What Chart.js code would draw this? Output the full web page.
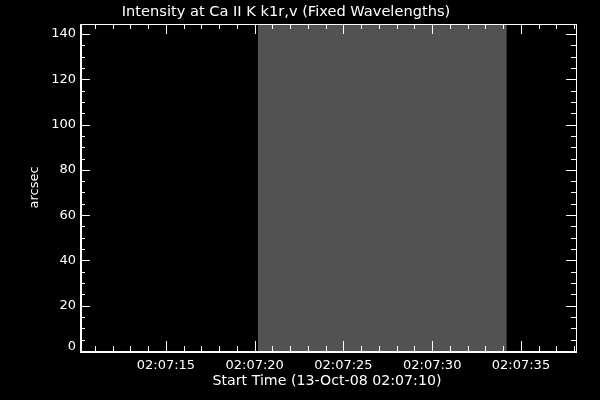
<!DOCTYPE html>
<html>
<head>
<meta charset="utf-8">
<script src="https://cdn.jsdelivr.net/npm/chart.js@4"></script>
<style>
  html, body { margin: 0; padding: 0; background: #000; }
  #wrap { width: 600px; height: 400px; }
</style>
</head>
<body>
<div id="wrap"><canvas id="c"></canvas></div>
<script>
// Data (seconds after 02:07:00)
const xMin = 10.16, xMax = 38.1;
const yMin = 0, yMax = 144.4;
const bandStart = 20.17, bandEnd = 34.2;   // grey intensity block
const xMajorTicks = [15, 20, 25, 30, 35];
const xTickLabels = ['02:07:15', '02:07:20', '02:07:25', '02:07:30', '02:07:35'];
const yMajorTicks = [0, 20, 40, 60, 80, 100, 120, 140];
const titleText = 'Intensity at Ca II K k1r,v (Fixed Wavelengths)';
const xTitle = 'Start Time (13-Oct-08 02:07:10)';
const yTitle = 'arcsec';

// IDL-style axes: box, ticks pointing inward, labels drawn by hand
const idlAxes = {
  id: 'idlAxes',
  beforeDraw(chart) {
    const ctx = chart.ctx;
    ctx.save();
    ctx.fillStyle = '#000';
    ctx.fillRect(0, 0, chart.width, chart.height);
    ctx.restore();
  },
  afterDraw(chart) {
    const {ctx, chartArea: a} = chart;
    const xs = chart.scales.x, ys = chart.scales.y;
    ctx.save();
    ctx.fillStyle = '#fff';
    ctx.lineWidth = 1;

    // right edge of the grey block is a bit darker
    const ex = Math.round(xs.getPixelForValue(bandEnd)) - 0.5;
    ctx.strokeStyle = '#303030';
    ctx.beginPath();
    ctx.moveTo(ex, ys.getPixelForValue(yMax));
    ctx.lineTo(ex, ys.getPixelForValue(0));
    ctx.stroke();

    ctx.strokeStyle = '#fff';
    ctx.strokeRect(a.left + 0.5, a.top + 0.5, a.right - a.left, a.bottom - a.top);
    ctx.beginPath();
    ctx.moveTo(a.left, a.bottom + 1.5);
    ctx.lineTo(a.right + 1, a.bottom + 1.5);
    ctx.moveTo(a.left + 1.5, a.top);
    ctx.lineTo(a.left + 1.5, a.bottom + 1);
    ctx.stroke();

    ctx.beginPath();
    // x ticks every second, major every 5 s
    for (let s = Math.ceil(xMin); s <= xMax; s++) {
      const px = Math.round(xs.getPixelForValue(s)) + 0.5;
      const len = (s % 5 === 0) ? 10 : 5;
      ctx.moveTo(px, a.bottom); ctx.lineTo(px, a.bottom - len);
      ctx.moveTo(px, a.top); ctx.lineTo(px, a.top + len);
    }
    // y ticks every 5, major every 20
    for (let v = 0; v <= yMax; v += 5) {
      const py = Math.round(ys.getPixelForValue(v)) + 0.5;
      const len = (v % 20 === 0) ? 10 : 5;
      ctx.moveTo(a.left, py); ctx.lineTo(a.left + len, py);
      ctx.moveTo(a.right, py); ctx.lineTo(a.right - len, py);
    }
    ctx.stroke();

    ctx.font = '13px "DejaVu Sans"';
    ctx.textBaseline = 'middle';
    ctx.textAlign = 'right';
    yMajorTicks.forEach(v => {
      let py = ys.getPixelForValue(v);
      if (v === 0) py -= 4;   // IDL keeps the lowest label above the axis
      ctx.fillText(String(v), a.left - 4, py);
    });
    ctx.textAlign = 'center';
    xMajorTicks.forEach((s, i) => {
      ctx.fillText(xTickLabels[i], xs.getPixelForValue(s), a.bottom + 15);
    });
    ctx.font = '14.2px "DejaVu Sans"';
    ctx.fillText(xTitle, 327, a.bottom + 30);

    ctx.font = '14.6px "DejaVu Sans"';
    ctx.fillText(titleText, 286, 12);

    ctx.save();
    ctx.font = '13px "DejaVu Sans"';
    ctx.translate(35, (a.top + a.bottom) / 2);
    ctx.rotate(-Math.PI / 2);
    ctx.fillText(yTitle, 0, 0);
    ctx.restore();

    ctx.restore();
  }
};

new Chart(document.getElementById('c'), {
  type: 'line',
  data: {
    datasets: [{
      label: 'intensity',
      data: [{x: bandStart, y: yMax}, {x: bandEnd, y: yMax}],
      backgroundColor: '#525252',
      borderWidth: 0,
      pointRadius: 0,
      fill: 'origin'
    }]
  },
  options: {
    responsive: true,
    maintainAspectRatio: false,
    animation: false,
    layout: { padding: { left: 80, right: 24, top: 24, bottom: 49 } },
    plugins: { legend: { display: false }, tooltip: { enabled: false } },
    scales: {
      x: { type: 'linear', min: xMin, max: xMax, display: false },
      y: { type: 'linear', min: yMin, max: yMax, display: false }
    }
  },
  plugins: [idlAxes]
});
</script>
</body>
</html>
